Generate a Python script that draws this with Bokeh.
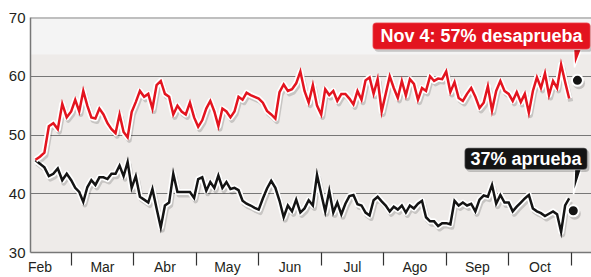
import pandas as pd
from bokeh.plotting import figure
from bokeh.models import FixedTicker, BoxAnnotation, Label, Span, ColumnDataSource
from bokeh.embed import file_html
from bokeh.resources import INLINE

# ---- data ----
start_date = "2011-02-13"
step = "2D"
desaprueba = [
    45.8, 46.3, 47.0, 51.5, 52.0, 51.0, 55.3, 53.0, 54.0, 56.0,
    54.0, 57.5, 55.0, 53.0, 52.8, 54.5, 53.5, 52.0, 51.0, 50.3,
    53.5, 50.5, 49.6, 53.9, 55.6, 57.5, 56.5, 57.0, 54.5, 58.5,
    59.2, 57.0, 56.5, 53.5, 55.0, 54.0, 53.5, 55.5, 53.0, 51.4,
    52.5, 54.5, 55.8, 54.0, 51.5, 54.5, 54.0, 53.0, 54.0, 56.5,
    56.0, 57.2, 56.8, 56.5, 56.2, 55.5, 54.1, 53.5, 52.8, 57.3,
    58.6, 57.5, 57.8, 58.8, 60.8, 57.5, 55.5, 58.5, 55.0, 53.5,
    57.8, 56.8, 57.5, 55.8, 57.0, 57.0, 56.2, 55.2, 57.5, 56.0,
    59.3, 59.8, 57.0, 59.5, 54.0, 57.0, 60.0, 58.0, 56.3, 59.2,
    56.7, 59.5, 58.7, 56.0, 58.0, 57.5, 60.0, 59.2, 59.6, 59.5,
    60.8, 57.3, 59.0, 56.3, 55.8, 57.0, 58.0, 56.5, 54.6, 55.5,
    58.3, 54.2, 57.5, 59.2, 57.5, 57.0, 55.8, 57.3, 55.6, 57.0,
    53.8, 57.5, 59.8, 58.0, 60.5, 56.8, 59.2, 58.0, 62.0, 59.0, 56.2,
]
aprueba = [
    45.7, 45.1, 44.5, 43.0, 43.4, 44.3, 42.3, 43.4, 42.3, 41.0,
    40.3, 38.6, 41.1, 42.3, 41.5, 42.8, 42.8, 42.5, 43.4, 43.4,
    44.8, 43.0, 45.4, 41.0, 43.0, 39.5, 39.0, 38.5, 40.8, 37.5,
    34.3, 38.0, 38.5, 43.4, 40.3, 40.3, 40.3, 40.3, 39.3, 42.5,
    42.8, 40.5, 42.0, 41.0, 43.1, 41.0, 42.0, 40.8, 41.0, 40.6,
    38.8, 38.3, 38.0, 37.6, 37.3, 39.2, 40.9, 42.2, 41.0, 38.8,
    36.0, 38.0, 37.0, 39.0, 36.8, 37.5, 38.9, 38.0, 43.2, 40.0,
    37.0, 40.5, 36.8, 38.5, 36.5, 38.3, 39.6, 39.8, 38.2, 38.0,
    36.8, 36.3, 38.9, 39.5, 38.7, 38.0, 37.0, 37.8, 37.3, 38.0,
    36.8, 38.0, 37.5, 38.3, 38.8, 36.0, 35.3, 35.3, 34.5, 35.0,
    35.0, 34.8, 38.8, 38.0, 38.5, 38.0, 38.3, 37.0, 39.0, 39.7,
    39.5, 41.5, 38.3, 39.8, 38.5, 38.5, 37.0, 37.8, 38.5, 39.2,
    39.8, 37.5, 37.0, 36.7, 36.2, 36.6, 37.0, 36.5, 33.5, 38.0, 39.2,
]
months = ["Feb", "Mar", "Abr", "May", "Jun", "Jul", "Ago", "Sep", "Oct"]
y_ticks = [30, 40, 50, 60, 70]
grid_values = [40, 50, 60]
marker_dates = ["2011-11-04", "2011-11-02"]
marker_values = [59.3, 37.1]
label_red = "Nov 4: 57% desaprueba"
label_black = "37% aprueba"

RED = "#e3141f"
BLACK = "#141414"
FONT = "Liberation Sans"


def month_pos(ts):
    """evenly spaced month scale (Feb = 0 .. 1)"""
    ts = pd.Timestamp(ts)
    return (ts.month - 2) + (ts.day - 1) / ts.days_in_month


dates = pd.date_range(start_date, periods=len(desaprueba), freq=step)
xs = [month_pos(d) for d in dates]

# shadow offsets (styling)
sdx, sdy = 0.025, 0.5
src = ColumnDataSource(dict(
    x=xs, xs_=[x + sdx for x in xs],
    red=desaprueba, black=aprueba,
    red_s=[v - sdy for v in desaprueba], black_s=[v - sdy for v in aprueba],
))

p = figure(width=591, height=277, x_range=(0.349, 9.325), y_range=(30, 70),
           output_backend="svg", toolbar_location=None,
           min_border_left=30, min_border_right=0, min_border_top=17, min_border_bottom=25)
p.background_fill_color = "#eeebe9"
p.border_fill_color = "white"
p.outline_line_color = None

p.add_layout(BoxAnnotation(bottom=63.7, top=70, fill_color="#f4f4f4", fill_alpha=1,
                           line_color=None, level="underlay"))

p.xgrid.visible = False
p.ygrid.ticker = FixedTicker(ticks=grid_values)
p.ygrid.grid_line_color = "#777777"
p.ygrid.grid_line_width = 1

p.yaxis.ticker = FixedTicker(ticks=y_ticks)
p.yaxis.major_tick_out = 0
p.yaxis.major_tick_in = 0
p.yaxis.minor_tick_out = 0
p.yaxis.axis_line_color = "#777777"
p.yaxis.axis_line_width = 1.5
p.yaxis.major_label_text_font = FONT
p.yaxis.major_label_text_font_size = "15px"
p.yaxis.major_label_text_color = "#231f20"
p.yaxis.major_label_standoff = 5

p.xaxis.ticker = FixedTicker(ticks=[i + 0.5 for i in range(len(months))],
                             minor_ticks=list(range(1, len(months) + 1)))
p.xaxis.major_label_overrides = {i + 0.5: m for i, m in enumerate(months)}
p.xaxis.major_tick_out = 0
p.xaxis.major_tick_in = 0
p.xaxis.minor_tick_in = 0
p.xaxis.minor_tick_out = 13
p.xaxis.minor_tick_line_color = "#333333"
p.xaxis.minor_tick_line_width = 1.2
p.xaxis.axis_line_color = "#777777"
p.xaxis.axis_line_width = 1.5
p.xaxis.major_label_text_font = FONT
p.xaxis.major_label_text_font_size = "14px"
p.xaxis.major_label_text_color = "#231f20"
p.xaxis.major_label_standoff = -7

p.add_layout(Span(location=70, dimension="width", line_color="#8a8a8a", line_width=2))

# lines: shadow, white halo, colour
for col, colour in (("black", BLACK), ("red", RED)):
    p.line("xs_", col + "_s", source=src, line_color="#000000", line_alpha=0.16,
           line_width=5, line_join="round")
    p.line("x", col, source=src, line_color="white", line_width=6, line_join="round")
    p.line("x", col, source=src, line_color=colour, line_width=2.5, line_join="miter")

# callout tails
p.patch([9.037, 9.165, 9.053], [64.6, 64.6, 61.5], fill_color=RED,
        line_color="white", line_width=1.5)
p.patch([9.053, 9.165, 9.037], [44.2, 44.2, 39.9], fill_color=BLACK,
        line_color="white", line_width=1.5)

# end markers
mx = [month_pos(d) for d in marker_dates]
p.scatter([x + sdx for x in mx], [v - sdy for v in marker_values], size=12,
          fill_color="#000000", fill_alpha=0.18, line_color=None)
p.scatter(mx, marker_values, size=11, fill_color=BLACK, line_color="white", line_width=2)

# callout boxes
for (l, r, t, b, fc) in ((5.821, 9.309, 69.15, 64.55, RED),
                         (7.293, 9.261, 47.85, 44.1, BLACK)):
    p.add_layout(BoxAnnotation(left=l + 0.03, right=r + 0.03, top=t - 0.4, bottom=b - 0.4,
                               fill_color="#000000", fill_alpha=0.2, line_color=None,
                               border_radius=4))
    p.add_layout(BoxAnnotation(left=l, right=r, top=t, bottom=b, fill_color=fc, fill_alpha=1,
                               line_color="white", line_width=1.5, border_radius=4))

p.add_layout(Label(x=7.565, y=66.85, text=label_red, text_align="center",
                   text_baseline="middle", text_font=FONT, text_font_size="18px",
                   text_font_style="bold", text_color="white"))
p.add_layout(Label(x=8.277, y=45.98, text=label_black, text_align="center",
                   text_baseline="middle", text_font=FONT, text_font_size="18px",
                   text_font_style="bold", text_color="white"))

open("out.html", "w").write(file_html(p, INLINE))
